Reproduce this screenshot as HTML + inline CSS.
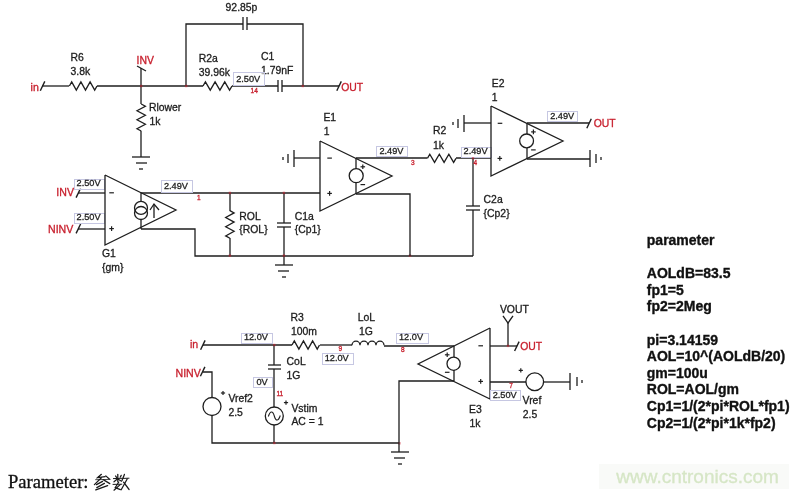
<!DOCTYPE html>
<html><head><meta charset="utf-8"><style>
html,body{margin:0;padding:0;background:#fff;}
body{width:800px;height:492px;overflow:hidden;}
svg{display:block;will-change:transform;}
</style></head><body>
<svg width="800" height="492" viewBox="0 0 800 492">
<rect width="800" height="492" fill="#fff"/>
<text x="30.6" y="90.6" style="font-family:'Liberation Sans';font-size:10.6px;font-weight:normal" fill="#c8202e" stroke="#c8202e" stroke-width="0.3" >in</text>
<path d="M40.30,90.80 L44.80,81.40" fill="none" stroke="#1e1e1e" stroke-width="1.4"/>
<path d="M42.00,86.00 L69.00,86.00" fill="none" stroke="#1e1e1e" stroke-width="1.3"/>
<path d="M69.40,86.00 L71.70,81.90 L76.30,90.10 L80.90,81.90 L85.50,90.10 L90.10,81.90 L94.70,90.10 L97.00,86.00" fill="none" stroke="#1e1e1e" stroke-width="1.3"/>
<path d="M97.00,86.00 L203.00,86.00" fill="none" stroke="#1e1e1e" stroke-width="1.3"/>
<text x="70.6" y="60.8" style="font-family:'Liberation Sans';font-size:10.4px;font-weight:normal" fill="#1c1c1c" stroke="#1c1c1c" stroke-width="0.3" >R6</text>
<text x="70.6" y="75.0" style="font-family:'Liberation Sans';font-size:10.4px;font-weight:normal" fill="#1c1c1c" stroke="#1c1c1c" stroke-width="0.3" >3.8k</text>
<text x="136.6" y="64.2" style="font-family:'Liberation Sans';font-size:10.4px;font-weight:normal" fill="#c8202e" stroke="#c8202e" stroke-width="0.3" >INV</text>
<path d="M137.00,66.00 L146.00,71.00" fill="none" stroke="#1e1e1e" stroke-width="1.3"/>
<path d="M141.00,68.00 L141.00,104.00" fill="none" stroke="#1e1e1e" stroke-width="1.3"/>
<path d="M141.20,104.00 L145.40,106.25 L137.00,110.75 L145.40,115.25 L137.00,119.75 L145.40,124.25 L137.00,128.75 L141.20,131.00" fill="none" stroke="#1e1e1e" stroke-width="1.3"/>
<path d="M141.00,131.00 L141.00,157.00" fill="none" stroke="#1e1e1e" stroke-width="1.3"/>
<path d="M132.00,157.00 L150.00,157.00" fill="none" stroke="#1e1e1e" stroke-width="1.3"/>
<path d="M136.00,163.00 L147.00,163.00" fill="none" stroke="#1e1e1e" stroke-width="1.3"/>
<path d="M139.00,169.00 L143.00,169.00" fill="none" stroke="#1e1e1e" stroke-width="1.3"/>
<text x="149.0" y="111.2" style="font-family:'Liberation Sans';font-size:10.4px;font-weight:normal" fill="#1c1c1c" stroke="#1c1c1c" stroke-width="0.3" >Rlower</text>
<text x="149.6" y="125.0" style="font-family:'Liberation Sans';font-size:10.4px;font-weight:normal" fill="#1c1c1c" stroke="#1c1c1c" stroke-width="0.3" >1k</text>
<path d="M186.00,86.00 L186.00,24.00 L243.00,24.00" fill="none" stroke="#1e1e1e" stroke-width="1.3"/>
<path d="M243.00,17.00 L243.00,30.00" fill="none" stroke="#1e1e1e" stroke-width="1.3"/>
<path d="M247.00,17.00 L247.00,30.00" fill="none" stroke="#1e1e1e" stroke-width="1.3"/>
<path d="M247.00,24.00 L303.00,24.00 L303.00,86.00" fill="none" stroke="#1e1e1e" stroke-width="1.3"/>
<text x="225.6" y="11.4" style="font-family:'Liberation Sans';font-size:10.4px;font-weight:normal" fill="#1c1c1c" stroke="#1c1c1c" stroke-width="0.3" >92.85p</text>
<path d="M203.00,86.00 L205.42,81.90 L210.25,90.10 L215.08,81.90 L219.92,90.10 L224.75,81.90 L229.58,90.10 L232.00,86.00" fill="none" stroke="#1e1e1e" stroke-width="1.3"/>
<text x="198.7" y="62.0" style="font-family:'Liberation Sans';font-size:10.4px;font-weight:normal" fill="#1c1c1c" stroke="#1c1c1c" stroke-width="0.3" >R2a</text>
<text x="198.7" y="75.6" style="font-family:'Liberation Sans';font-size:10.4px;font-weight:normal" fill="#1c1c1c" stroke="#1c1c1c" stroke-width="0.3" >39.96k</text>
<path d="M232.00,86.00 L278.00,86.00" fill="none" stroke="#1e1e1e" stroke-width="1.3"/>
<path d="M278.00,80.00 L278.00,92.00" fill="none" stroke="#1e1e1e" stroke-width="1.3"/>
<path d="M282.00,80.00 L282.00,92.00" fill="none" stroke="#1e1e1e" stroke-width="1.3"/>
<path d="M282.00,86.00 L339.00,86.00" fill="none" stroke="#1e1e1e" stroke-width="1.3"/>
<text x="261.0" y="60.2" style="font-family:'Liberation Sans';font-size:10.4px;font-weight:normal" fill="#1c1c1c" stroke="#1c1c1c" stroke-width="0.3" >C1</text>
<text x="261.0" y="73.8" style="font-family:'Liberation Sans';font-size:10.4px;font-weight:normal" fill="#1c1c1c" stroke="#1c1c1c" stroke-width="0.3" >1.79nF</text>
<path d="M336.80,90.80 L341.30,81.40" fill="none" stroke="#1e1e1e" stroke-width="1.4"/>
<text x="341.2" y="91.0" style="font-family:'Liberation Sans';font-size:10.4px;font-weight:normal" fill="#c8202e" stroke="#c8202e" stroke-width="0.3" >OUT</text>
<rect x="233.5" y="72.5" width="31.0" height="13.0" fill="#fff" fill-opacity="0.6" stroke="#c6c7e2" stroke-width="1"/>
<text x="236.2" y="81.8" style="font-family:'Liberation Sans';font-size:9.2px;font-weight:normal" fill="#222" stroke="#222" stroke-width="0.3" >2.50V</text>
<text x="250.6" y="93.0" style="font-family:'Liberation Sans';font-size:6.5px;font-weight:normal" fill="#c8202e" stroke="#c8202e" stroke-width="0.3" >14</text>
<rect x="140.0" y="84.8" width="2.4" height="2.4" fill="#c8202e" fill-opacity="0.55"/>
<rect x="185.0" y="84.8" width="2.4" height="2.4" fill="#c8202e" fill-opacity="0.55"/>
<rect x="301.6" y="84.8" width="2.4" height="2.4" fill="#c8202e" fill-opacity="0.55"/>
<text x="56.3" y="196.0" style="font-family:'Liberation Sans';font-size:10.6px;font-weight:normal" fill="#c8202e" stroke="#c8202e" stroke-width="0.3" >INV</text>
<path d="M76.10,197.60 L80.60,188.20" fill="none" stroke="#1e1e1e" stroke-width="1.4"/>
<path d="M78.00,193.00 L105.00,193.00" fill="none" stroke="#1e1e1e" stroke-width="1.3"/>
<text x="48.0" y="233.4" style="font-family:'Liberation Sans';font-size:10.6px;font-weight:normal" fill="#c8202e" stroke="#c8202e" stroke-width="0.3" >NINV</text>
<path d="M76.10,233.40 L80.60,224.00" fill="none" stroke="#1e1e1e" stroke-width="1.4"/>
<path d="M78.00,229.00 L105.00,229.00" fill="none" stroke="#1e1e1e" stroke-width="1.3"/>
<rect x="74.5" y="179.5" width="30.0" height="10.0" fill="#fff" fill-opacity="0.6" stroke="#c6c7e2" stroke-width="1"/>
<text x="76.6" y="185.79999999999998" style="font-family:'Liberation Sans';font-size:9.2px;font-weight:normal" fill="#222" stroke="#222" stroke-width="0.3" >2.50V</text>
<rect x="74.5" y="213.5" width="30.0" height="10.0" fill="#fff" fill-opacity="0.6" stroke="#c6c7e2" stroke-width="1"/>
<text x="76.6" y="219.79999999999998" style="font-family:'Liberation Sans';font-size:9.2px;font-weight:normal" fill="#222" stroke="#222" stroke-width="0.3" >2.50V</text>
<path d="M105.00,175.00 L105.00,245.00 L176.00,210.00 L105.00,175.00" fill="none" stroke="#1e1e1e" stroke-width="1.3"/>
<path d="M109.30,192.80 L113.90,192.80" fill="none" stroke="#1e1e1e" stroke-width="1.2"/>
<path d="M109.30,228.60 L113.90,228.60" fill="none" stroke="#1e1e1e" stroke-width="1.2"/>
<path d="M111.60,226.30 L111.60,230.90" fill="none" stroke="#1e1e1e" stroke-width="1.2"/>
<path d="M141.00,193.00 L141.00,202.00" fill="none" stroke="#1e1e1e" stroke-width="1.3"/>
<path d="M141.00,220.00 L141.00,229.00" fill="none" stroke="#1e1e1e" stroke-width="1.3"/>
<circle cx="141.0" cy="207.9" r="6.5" fill="none" stroke="#1e1e1e" stroke-width="1.3"/>
<circle cx="141.0" cy="213.0" r="6.5" fill="none" stroke="#1e1e1e" stroke-width="1.3"/>
<path d="M154.00,204.00 L154.00,218.00" fill="none" stroke="#1e1e1e" stroke-width="1.3"/>
<path d="M150.00,210.00 L154.00,204.00 L159.00,210.00" fill="none" stroke="#1e1e1e" stroke-width="1.3"/>
<text x="102.0" y="257.0" style="font-family:'Liberation Sans';font-size:10.4px;font-weight:normal" fill="#1c1c1c" stroke="#1c1c1c" stroke-width="0.3" >G1</text>
<text x="102.0" y="270.6" style="font-family:'Liberation Sans';font-size:10.4px;font-weight:normal" fill="#1c1c1c" stroke="#1c1c1c" stroke-width="0.3" >{gm}</text>
<path d="M141.00,193.00 L320.00,193.00" fill="none" stroke="#1e1e1e" stroke-width="1.3"/>
<rect x="161.5" y="180.5" width="31.0" height="12.0" fill="#fff" fill-opacity="0.6" stroke="#c6c7e2" stroke-width="1"/>
<text x="163.9" y="188.79999999999998" style="font-family:'Liberation Sans';font-size:9.2px;font-weight:normal" fill="#222" stroke="#222" stroke-width="0.3" >2.49V</text>
<text x="197.0" y="199.6" style="font-family:'Liberation Sans';font-size:6.5px;font-weight:normal" fill="#c8202e" stroke="#c8202e" stroke-width="0.3" >1</text>
<path d="M141.00,229.00 L195.00,229.00 L195.00,256.00 L473.00,256.00" fill="none" stroke="#1e1e1e" stroke-width="1.3"/>
<path d="M230.00,193.00 L230.00,211.00" fill="none" stroke="#1e1e1e" stroke-width="1.3"/>
<path d="M229.90,210.60 L234.10,212.90 L225.70,217.50 L234.10,222.10 L225.70,226.70 L234.10,231.30 L225.70,235.90 L229.90,238.20" fill="none" stroke="#1e1e1e" stroke-width="1.3"/>
<path d="M230.00,238.00 L230.00,256.00" fill="none" stroke="#1e1e1e" stroke-width="1.3"/>
<text x="239.3" y="219.8" style="font-family:'Liberation Sans';font-size:10.4px;font-weight:normal" fill="#1c1c1c" stroke="#1c1c1c" stroke-width="0.3" >ROL</text>
<text x="239.3" y="232.6" style="font-family:'Liberation Sans';font-size:10.4px;font-weight:normal" fill="#1c1c1c" stroke="#1c1c1c" stroke-width="0.3" >{ROL}</text>
<path d="M284.00,193.00 L284.00,223.00" fill="none" stroke="#1e1e1e" stroke-width="1.3"/>
<path d="M277.00,223.00 L291.00,223.00" fill="none" stroke="#1e1e1e" stroke-width="1.3"/>
<path d="M277.00,227.00 L291.00,227.00" fill="none" stroke="#1e1e1e" stroke-width="1.3"/>
<path d="M284.00,227.00 L284.00,265.00" fill="none" stroke="#1e1e1e" stroke-width="1.3"/>
<path d="M275.00,265.00 L293.00,265.00" fill="none" stroke="#1e1e1e" stroke-width="1.3"/>
<path d="M278.00,271.00 L289.00,271.00" fill="none" stroke="#1e1e1e" stroke-width="1.3"/>
<path d="M282.00,277.00 L286.00,277.00" fill="none" stroke="#1e1e1e" stroke-width="1.3"/>
<text x="294.8" y="219.8" style="font-family:'Liberation Sans';font-size:10.4px;font-weight:normal" fill="#1c1c1c" stroke="#1c1c1c" stroke-width="0.3" >C1a</text>
<text x="294.8" y="232.6" style="font-family:'Liberation Sans';font-size:10.4px;font-weight:normal" fill="#1c1c1c" stroke="#1c1c1c" stroke-width="0.3" >{Cp1}</text>
<rect x="228.70000000000002" y="191.70000000000002" width="2.4" height="2.4" fill="#c8202e" fill-opacity="0.55"/>
<rect x="282.7" y="191.70000000000002" width="2.4" height="2.4" fill="#c8202e" fill-opacity="0.55"/>
<rect x="228.70000000000002" y="254.4" width="2.4" height="2.4" fill="#c8202e" fill-opacity="0.55"/>
<rect x="282.7" y="254.4" width="2.4" height="2.4" fill="#c8202e" fill-opacity="0.55"/>
<rect x="408.8" y="254.4" width="2.4" height="2.4" fill="#c8202e" fill-opacity="0.55"/>
<path d="M320.00,141.00 L320.00,211.00 L392.00,176.00 L320.00,141.00" fill="none" stroke="#1e1e1e" stroke-width="1.3"/>
<path d="M294.00,158.00 L320.00,158.00" fill="none" stroke="#1e1e1e" stroke-width="1.3"/>
<path d="M294.00,150.00 L294.00,167.00" fill="none" stroke="#1e1e1e" stroke-width="1.3"/>
<path d="M288.00,154.00 L288.00,163.00" fill="none" stroke="#1e1e1e" stroke-width="1.3"/>
<path d="M283.00,157.00 L283.00,160.00" fill="none" stroke="#1e1e1e" stroke-width="1.3"/>
<path d="M327.30,158.10 L331.90,158.10" fill="none" stroke="#1e1e1e" stroke-width="1.2"/>
<path d="M327.30,193.40 L331.90,193.40" fill="none" stroke="#1e1e1e" stroke-width="1.2"/>
<path d="M329.60,191.10 L329.60,195.70" fill="none" stroke="#1e1e1e" stroke-width="1.2"/>
<path d="M356.00,158.00 L356.00,169.00" fill="none" stroke="#1e1e1e" stroke-width="1.3"/>
<path d="M356.00,183.00 L356.00,194.00" fill="none" stroke="#1e1e1e" stroke-width="1.3"/>
<circle cx="356.2" cy="175.7" r="7.0" fill="none" stroke="#1e1e1e" stroke-width="1.3"/>
<path d="M360.50,166.80 L365.10,166.80" fill="none" stroke="#1e1e1e" stroke-width="1.2"/>
<path d="M362.80,164.50 L362.80,169.10" fill="none" stroke="#1e1e1e" stroke-width="1.2"/>
<path d="M360.50,184.60 L365.10,184.60" fill="none" stroke="#1e1e1e" stroke-width="1.2"/>
<text x="323.4" y="120.9" style="font-family:'Liberation Sans';font-size:10.4px;font-weight:normal" fill="#1c1c1c" stroke="#1c1c1c" stroke-width="0.3" >E1</text>
<text x="323.8" y="135.0" style="font-family:'Liberation Sans';font-size:10.4px;font-weight:normal" fill="#1c1c1c" stroke="#1c1c1c" stroke-width="0.3" >1</text>
<path d="M356.00,158.00 L427.00,158.00" fill="none" stroke="#1e1e1e" stroke-width="1.3"/>
<path d="M427.40,158.30 L429.78,154.20 L434.55,162.40 L439.32,154.20 L444.08,162.40 L448.85,154.20 L453.62,162.40 L456.00,158.30" fill="none" stroke="#1e1e1e" stroke-width="1.3"/>
<path d="M456.00,158.00 L491.00,158.00" fill="none" stroke="#1e1e1e" stroke-width="1.3"/>
<rect x="376.5" y="146.5" width="31.0" height="10.0" fill="#fff" fill-opacity="0.6" stroke="#c6c7e2" stroke-width="1"/>
<text x="379.40000000000003" y="153.6" style="font-family:'Liberation Sans';font-size:9.2px;font-weight:normal" fill="#222" stroke="#222" stroke-width="0.3" >2.49V</text>
<text x="411.0" y="165.0" style="font-family:'Liberation Sans';font-size:6.5px;font-weight:normal" fill="#c8202e" stroke="#c8202e" stroke-width="0.3" >3</text>
<text x="433.0" y="134.0" style="font-family:'Liberation Sans';font-size:10.4px;font-weight:normal" fill="#1c1c1c" stroke="#1c1c1c" stroke-width="0.3" >R2</text>
<text x="433.0" y="148.6" style="font-family:'Liberation Sans';font-size:10.4px;font-weight:normal" fill="#1c1c1c" stroke="#1c1c1c" stroke-width="0.3" >1k</text>
<path d="M356.00,194.00 L410.00,194.00 L410.00,256.00" fill="none" stroke="#1e1e1e" stroke-width="1.3"/>
<path d="M473.00,158.00 L473.00,206.00" fill="none" stroke="#1e1e1e" stroke-width="1.3"/>
<path d="M466.00,206.00 L480.00,206.00" fill="none" stroke="#1e1e1e" stroke-width="1.3"/>
<path d="M466.00,210.00 L480.00,210.00" fill="none" stroke="#1e1e1e" stroke-width="1.3"/>
<path d="M473.00,210.00 L473.00,256.00" fill="none" stroke="#1e1e1e" stroke-width="1.3"/>
<text x="483.6" y="203.4" style="font-family:'Liberation Sans';font-size:10.4px;font-weight:normal" fill="#1c1c1c" stroke="#1c1c1c" stroke-width="0.3" >C2a</text>
<text x="483.6" y="216.6" style="font-family:'Liberation Sans';font-size:10.4px;font-weight:normal" fill="#1c1c1c" stroke="#1c1c1c" stroke-width="0.3" >{Cp2}</text>
<rect x="461.5" y="147.5" width="30.0" height="10.0" fill="#fff" fill-opacity="0.6" stroke="#c6c7e2" stroke-width="1"/>
<text x="463.6" y="153.79999999999998" style="font-family:'Liberation Sans';font-size:9.2px;font-weight:normal" fill="#222" stroke="#222" stroke-width="0.3" >2.49V</text>
<text x="473.4" y="165.2" style="font-family:'Liberation Sans';font-size:6.5px;font-weight:normal" fill="#c8202e" stroke="#c8202e" stroke-width="0.3" >4</text>
<rect x="471.8" y="157.10000000000002" width="2.4" height="2.4" fill="#c8202e" fill-opacity="0.55"/>
<path d="M491.00,106.00 L491.00,176.00 L563.00,141.00 L491.00,106.00" fill="none" stroke="#1e1e1e" stroke-width="1.3"/>
<path d="M464.00,123.00 L491.00,123.00" fill="none" stroke="#1e1e1e" stroke-width="1.3"/>
<path d="M464.00,115.00 L464.00,132.00" fill="none" stroke="#1e1e1e" stroke-width="1.3"/>
<path d="M458.00,119.00 L458.00,128.00" fill="none" stroke="#1e1e1e" stroke-width="1.3"/>
<path d="M453.00,122.00 L453.00,125.00" fill="none" stroke="#1e1e1e" stroke-width="1.3"/>
<path d="M497.70,123.30 L502.30,123.30" fill="none" stroke="#1e1e1e" stroke-width="1.2"/>
<path d="M497.50,158.40 L502.10,158.40" fill="none" stroke="#1e1e1e" stroke-width="1.2"/>
<path d="M499.80,156.10 L499.80,160.70" fill="none" stroke="#1e1e1e" stroke-width="1.2"/>
<path d="M527.00,123.00 L527.00,134.00" fill="none" stroke="#1e1e1e" stroke-width="1.3"/>
<path d="M527.00,148.00 L527.00,159.00" fill="none" stroke="#1e1e1e" stroke-width="1.3"/>
<circle cx="526.6" cy="140.9" r="6.9" fill="none" stroke="#1e1e1e" stroke-width="1.3"/>
<path d="M531.10,131.90 L535.70,131.90" fill="none" stroke="#1e1e1e" stroke-width="1.2"/>
<path d="M533.40,129.60 L533.40,134.20" fill="none" stroke="#1e1e1e" stroke-width="1.2"/>
<path d="M531.10,149.90 L535.70,149.90" fill="none" stroke="#1e1e1e" stroke-width="1.2"/>
<text x="491.8" y="87.0" style="font-family:'Liberation Sans';font-size:10.4px;font-weight:normal" fill="#1c1c1c" stroke="#1c1c1c" stroke-width="0.3" >E2</text>
<text x="491.8" y="100.5" style="font-family:'Liberation Sans';font-size:10.4px;font-weight:normal" fill="#1c1c1c" stroke="#1c1c1c" stroke-width="0.3" >1</text>
<path d="M527.00,123.00 L589.00,123.00" fill="none" stroke="#1e1e1e" stroke-width="1.3"/>
<path d="M586.80,128.20 L591.30,118.80" fill="none" stroke="#1e1e1e" stroke-width="1.4"/>
<text x="593.7" y="127.0" style="font-family:'Liberation Sans';font-size:10.4px;font-weight:normal" fill="#c8202e" stroke="#c8202e" stroke-width="0.3" >OUT</text>
<rect x="547.5" y="111.5" width="30.0" height="10.0" fill="#fff" fill-opacity="0.6" stroke="#c6c7e2" stroke-width="1"/>
<text x="550.2" y="118.60000000000001" style="font-family:'Liberation Sans';font-size:9.2px;font-weight:normal" fill="#222" stroke="#222" stroke-width="0.3" >2.49V</text>
<path d="M527.00,159.00 L590.00,159.00" fill="none" stroke="#1e1e1e" stroke-width="1.3"/>
<path d="M590.00,150.00 L590.00,167.00" fill="none" stroke="#1e1e1e" stroke-width="1.3"/>
<path d="M596.00,154.00 L596.00,163.00" fill="none" stroke="#1e1e1e" stroke-width="1.3"/>
<path d="M601.00,157.00 L601.00,160.00" fill="none" stroke="#1e1e1e" stroke-width="1.3"/>
<text x="190.0" y="348.2" style="font-family:'Liberation Sans';font-size:10.6px;font-weight:normal" fill="#c8202e" stroke="#c8202e" stroke-width="0.3" >in</text>
<path d="M200.60,349.80 L205.10,340.40" fill="none" stroke="#1e1e1e" stroke-width="1.4"/>
<path d="M203.00,345.00 L292.00,345.00" fill="none" stroke="#1e1e1e" stroke-width="1.3"/>
<path d="M292.00,345.00 L294.29,340.90 L298.88,349.10 L303.46,340.90 L308.04,349.10 L312.62,340.90 L317.21,349.10 L319.50,345.00" fill="none" stroke="#1e1e1e" stroke-width="1.3"/>
<path d="M320.00,345.00 L352.00,345.00" fill="none" stroke="#1e1e1e" stroke-width="1.3"/>
<path d="M352,345.2 A4,4 0 0 1 360,345.2 A4,4 0 0 1 368,345.2 A4,4 0 0 1 376,345.2 A4,4 0 0 1 384,345.2" fill="none" stroke="#1e1e1e" stroke-width="1.3"/>
<path d="M384.00,346.00 L454.00,346.00" fill="none" stroke="#1e1e1e" stroke-width="1.3"/>
<text x="290.5" y="321.2" style="font-family:'Liberation Sans';font-size:10.4px;font-weight:normal" fill="#1c1c1c" stroke="#1c1c1c" stroke-width="0.3" >R3</text>
<text x="291.0" y="334.8" style="font-family:'Liberation Sans';font-size:10.4px;font-weight:normal" fill="#1c1c1c" stroke="#1c1c1c" stroke-width="0.3" >100m</text>
<text x="357.8" y="321.2" style="font-family:'Liberation Sans';font-size:10.4px;font-weight:normal" fill="#1c1c1c" stroke="#1c1c1c" stroke-width="0.3" >LoL</text>
<text x="359.0" y="334.6" style="font-family:'Liberation Sans';font-size:10.4px;font-weight:normal" fill="#1c1c1c" stroke="#1c1c1c" stroke-width="0.3" >1G</text>
<rect x="241.5" y="333.5" width="31.0" height="10.0" fill="#fff" fill-opacity="0.6" stroke="#c6c7e2" stroke-width="1"/>
<text x="243.9" y="340.0" style="font-family:'Liberation Sans';font-size:9.2px;font-weight:normal" fill="#222" stroke="#222" stroke-width="0.3" >12.0V</text>
<text x="338.6" y="351.4" style="font-family:'Liberation Sans';font-size:6.5px;font-weight:normal" fill="#c8202e" stroke="#c8202e" stroke-width="0.3" >9</text>
<rect x="322.5" y="353.5" width="31.0" height="11.0" fill="#fff" fill-opacity="0.6" stroke="#c6c7e2" stroke-width="1"/>
<text x="324.70000000000005" y="361.2" style="font-family:'Liberation Sans';font-size:9.2px;font-weight:normal" fill="#222" stroke="#222" stroke-width="0.3" >12.0V</text>
<path d="M274.00,345.00 L274.00,365.00" fill="none" stroke="#1e1e1e" stroke-width="1.3"/>
<path d="M268.00,365.00 L281.00,365.00" fill="none" stroke="#1e1e1e" stroke-width="1.3"/>
<path d="M268.00,369.00 L281.00,369.00" fill="none" stroke="#1e1e1e" stroke-width="1.3"/>
<path d="M274.00,369.00 L274.00,407.00" fill="none" stroke="#1e1e1e" stroke-width="1.3"/>
<circle cx="274.3" cy="416.0" r="9.0" fill="none" stroke="#1e1e1e" stroke-width="1.3"/>
<path d="M268.3,416.5 C270.3,410.5 272.8,410.5 274.3,416 C275.8,421.5 278.3,421.5 280.3,415.5" fill="none" stroke="#1e1e1e" stroke-width="1.1"/>
<path d="M274.00,425.00 L274.00,443.00" fill="none" stroke="#1e1e1e" stroke-width="1.3"/>
<text x="286.6" y="365.2" style="font-family:'Liberation Sans';font-size:10.4px;font-weight:normal" fill="#1c1c1c" stroke="#1c1c1c" stroke-width="0.3" >CoL</text>
<text x="286.6" y="378.8" style="font-family:'Liberation Sans';font-size:10.4px;font-weight:normal" fill="#1c1c1c" stroke="#1c1c1c" stroke-width="0.3" >1G</text>
<rect x="253.5" y="377.5" width="19.0" height="10.0" fill="#fff" fill-opacity="0.6" stroke="#c6c7e2" stroke-width="1"/>
<text x="256.4" y="384.59999999999997" style="font-family:'Liberation Sans';font-size:9.2px;font-weight:normal" fill="#222" stroke="#222" stroke-width="0.3" >0V</text>
<text x="276.4" y="396.0" style="font-family:'Liberation Sans';font-size:6.5px;font-weight:normal" fill="#c8202e" stroke="#c8202e" stroke-width="0.3" >11</text>
<path d="M283.90,402.60 L288.10,402.60" fill="none" stroke="#1e1e1e" stroke-width="1.2"/>
<path d="M286.00,400.50 L286.00,404.70" fill="none" stroke="#1e1e1e" stroke-width="1.2"/>
<text x="291.4" y="411.8" style="font-family:'Liberation Sans';font-size:10.4px;font-weight:normal" fill="#1c1c1c" stroke="#1c1c1c" stroke-width="0.3" >Vstim</text>
<text x="291.4" y="425.2" style="font-family:'Liberation Sans';font-size:10.4px;font-weight:normal" fill="#1c1c1c" stroke="#1c1c1c" stroke-width="0.3" >AC = 1</text>
<text x="175.5" y="376.6" style="font-family:'Liberation Sans';font-size:10.6px;font-weight:normal" fill="#c8202e" stroke="#c8202e" stroke-width="0.3" >NINV</text>
<path d="M200.40,376.30 L204.90,366.90" fill="none" stroke="#1e1e1e" stroke-width="1.4"/>
<path d="M203.00,372.00 L212.00,372.00 L212.00,398.00" fill="none" stroke="#1e1e1e" stroke-width="1.3"/>
<circle cx="212.0" cy="406.5" r="9.0" fill="none" stroke="#1e1e1e" stroke-width="1.3"/>
<path d="M212.00,416.00 L212.00,443.00 L399.00,443.00" fill="none" stroke="#1e1e1e" stroke-width="1.3"/>
<path d="M220.90,393.00 L225.10,393.00" fill="none" stroke="#1e1e1e" stroke-width="1.2"/>
<path d="M223.00,390.90 L223.00,395.10" fill="none" stroke="#1e1e1e" stroke-width="1.2"/>
<text x="228.4" y="402.4" style="font-family:'Liberation Sans';font-size:10.4px;font-weight:normal" fill="#1c1c1c" stroke="#1c1c1c" stroke-width="0.3" >Vref2</text>
<text x="228.4" y="416.0" style="font-family:'Liberation Sans';font-size:10.4px;font-weight:normal" fill="#1c1c1c" stroke="#1c1c1c" stroke-width="0.3" >2.5</text>
<rect x="273.1" y="343.8" width="2.4" height="2.4" fill="#c8202e" fill-opacity="0.55"/>
<rect x="273.1" y="441.8" width="2.4" height="2.4" fill="#c8202e" fill-opacity="0.55"/>
<rect x="398.2" y="442.1" width="2.4" height="2.4" fill="#c8202e" fill-opacity="0.55"/>
<path d="M490.00,328.00 L490.00,399.00 L418.00,364.00 L490.00,328.00" fill="none" stroke="#1e1e1e" stroke-width="1.3"/>
<path d="M454.00,346.00 L454.00,357.00" fill="none" stroke="#1e1e1e" stroke-width="1.3"/>
<path d="M454.00,370.00 L454.00,381.00" fill="none" stroke="#1e1e1e" stroke-width="1.3"/>
<circle cx="453.6" cy="363.7" r="6.6" fill="none" stroke="#1e1e1e" stroke-width="1.3"/>
<path d="M444.90,354.80 L449.50,354.80" fill="none" stroke="#1e1e1e" stroke-width="1.2"/>
<path d="M447.20,352.50 L447.20,357.10" fill="none" stroke="#1e1e1e" stroke-width="1.2"/>
<path d="M444.90,372.30 L449.50,372.30" fill="none" stroke="#1e1e1e" stroke-width="1.2"/>
<path d="M478.40,345.80 L483.00,345.80" fill="none" stroke="#1e1e1e" stroke-width="1.2"/>
<path d="M478.40,381.40 L483.00,381.40" fill="none" stroke="#1e1e1e" stroke-width="1.2"/>
<path d="M480.70,379.10 L480.70,383.70" fill="none" stroke="#1e1e1e" stroke-width="1.2"/>
<path d="M454.00,381.00 L399.00,381.00 L399.00,452.00" fill="none" stroke="#1e1e1e" stroke-width="1.3"/>
<path d="M391.00,452.00 L409.00,452.00" fill="none" stroke="#1e1e1e" stroke-width="1.3"/>
<path d="M394.00,458.00 L405.00,458.00" fill="none" stroke="#1e1e1e" stroke-width="1.3"/>
<path d="M398.00,464.00 L402.00,464.00" fill="none" stroke="#1e1e1e" stroke-width="1.3"/>
<rect x="396.5" y="333.5" width="32.0" height="10.0" fill="#fff" fill-opacity="0.6" stroke="#c6c7e2" stroke-width="1"/>
<text x="399.0" y="340.2" style="font-family:'Liberation Sans';font-size:9.2px;font-weight:normal" fill="#222" stroke="#222" stroke-width="0.3" >12.0V</text>
<text x="401.0" y="352.2" style="font-family:'Liberation Sans';font-size:6.5px;font-weight:normal" fill="#c8202e" stroke="#c8202e" stroke-width="0.3" >8</text>
<path d="M490.00,346.00 L517.00,346.00" fill="none" stroke="#1e1e1e" stroke-width="1.3"/>
<path d="M514.60,351.00 L519.10,341.60" fill="none" stroke="#1e1e1e" stroke-width="1.4"/>
<text x="520.2" y="350.2" style="font-family:'Liberation Sans';font-size:10.4px;font-weight:normal" fill="#c8202e" stroke="#c8202e" stroke-width="0.3" >OUT</text>
<path d="M508.00,346.00 L508.00,323.00" fill="none" stroke="#1e1e1e" stroke-width="1.3"/>
<path d="M503.00,315.80 L508.00,323.00 L513.00,315.80" fill="none" stroke="#1e1e1e" stroke-width="1.3"/>
<text x="499.9" y="312.6" style="font-family:'Liberation Sans';font-size:10.4px;font-weight:normal" fill="#1c1c1c" stroke="#1c1c1c" stroke-width="0.3" >VOUT</text>
<rect x="506.8" y="344.7" width="2.4" height="2.4" fill="#c8202e" fill-opacity="0.55"/>
<path d="M490.00,382.00 L526.00,382.00" fill="none" stroke="#1e1e1e" stroke-width="1.3"/>
<circle cx="534.75" cy="381.7" r="8.85" fill="none" stroke="#1e1e1e" stroke-width="1.3"/>
<path d="M544.00,382.00 L570.00,382.00" fill="none" stroke="#1e1e1e" stroke-width="1.3"/>
<path d="M570.00,373.00 L570.00,390.00" fill="none" stroke="#1e1e1e" stroke-width="1.3"/>
<path d="M577.00,377.00 L577.00,386.00" fill="none" stroke="#1e1e1e" stroke-width="1.3"/>
<path d="M582.00,380.00 L582.00,383.00" fill="none" stroke="#1e1e1e" stroke-width="1.3"/>
<path d="M518.70,370.40 L522.90,370.40" fill="none" stroke="#1e1e1e" stroke-width="1.2"/>
<path d="M520.80,368.30 L520.80,372.50" fill="none" stroke="#1e1e1e" stroke-width="1.2"/>
<text x="522.6" y="403.6" style="font-family:'Liberation Sans';font-size:10.4px;font-weight:normal" fill="#1c1c1c" stroke="#1c1c1c" stroke-width="0.3" >Vref</text>
<text x="522.8" y="417.6" style="font-family:'Liberation Sans';font-size:10.4px;font-weight:normal" fill="#1c1c1c" stroke="#1c1c1c" stroke-width="0.3" >2.5</text>
<text x="509.2" y="388.0" style="font-family:'Liberation Sans';font-size:6.5px;font-weight:normal" fill="#c8202e" stroke="#c8202e" stroke-width="0.3" >7</text>
<rect x="490.5" y="390.5" width="30.0" height="10.0" fill="#fff" fill-opacity="0.6" stroke="#c6c7e2" stroke-width="1"/>
<text x="492.70000000000005" y="397.59999999999997" style="font-family:'Liberation Sans';font-size:9.2px;font-weight:normal" fill="#222" stroke="#222" stroke-width="0.3" >2.50V</text>
<text x="469.0" y="413.0" style="font-family:'Liberation Sans';font-size:10.4px;font-weight:normal" fill="#1c1c1c" stroke="#1c1c1c" stroke-width="0.3" >E3</text>
<text x="469.4" y="427.0" style="font-family:'Liberation Sans';font-size:10.4px;font-weight:normal" fill="#1c1c1c" stroke="#1c1c1c" stroke-width="0.3" >1k</text>
<text x="646.8" y="245.0" style="font-family:'Liberation Sans';font-size:14px;font-weight:bold" fill="#111" stroke="#111" stroke-width="0.35" >parameter</text>
<text x="646.8" y="278.2" style="font-family:'Liberation Sans';font-size:14px;font-weight:bold" fill="#111" stroke="#111" stroke-width="0.35" >AOLdB=83.5</text>
<text x="646.8" y="294.8" style="font-family:'Liberation Sans';font-size:14px;font-weight:bold" fill="#111" stroke="#111" stroke-width="0.35" >fp1=5</text>
<text x="646.8" y="311.4" style="font-family:'Liberation Sans';font-size:14px;font-weight:bold" fill="#111" stroke="#111" stroke-width="0.35" >fp2=2Meg</text>
<text x="646.8" y="344.6" style="font-family:'Liberation Sans';font-size:14px;font-weight:bold" fill="#111" stroke="#111" stroke-width="0.35" >pi=3.14159</text>
<text x="646.8" y="361.20000000000005" style="font-family:'Liberation Sans';font-size:14px;font-weight:bold" fill="#111" stroke="#111" stroke-width="0.35" >AOL=10^(AOLdB/20)</text>
<text x="646.8" y="377.8" style="font-family:'Liberation Sans';font-size:14px;font-weight:bold" fill="#111" stroke="#111" stroke-width="0.35" >gm=100u</text>
<text x="646.8" y="394.4" style="font-family:'Liberation Sans';font-size:14px;font-weight:bold" fill="#111" stroke="#111" stroke-width="0.35" >ROL=AOL/gm</text>
<text x="646.8" y="411.0" style="font-family:'Liberation Sans';font-size:14px;font-weight:bold" fill="#111" stroke="#111" stroke-width="0.35" >Cp1=1/(2*pi*ROL*fp1)</text>
<text x="646.8" y="427.6" style="font-family:'Liberation Sans';font-size:14px;font-weight:bold" fill="#111" stroke="#111" stroke-width="0.35" >Cp2=1/(2*pi*1k*fp2)</text>
<text x="8.0" y="488.4" style="font-family:'Liberation Serif';font-size:18.6px;font-weight:normal" fill="#111" stroke="#111" stroke-width="0.3" >Parameter:</text>
<rect x="599" y="464" width="190" height="25" fill="#f9faf8"/>
<text x="616.3" y="482.6" style="font-family:'Liberation Sans';font-size:19px;font-weight:normal" fill="#d6e6c6" stroke="#d6e6c6" stroke-width="0.3" >www.cntronics.com</text>
<path d="M101.40,474.30 L97.60,477.60 L105.20,476.60" fill="none" stroke="#1a1a1a" stroke-width="1.25" stroke-linecap="round"/>
<path d="M105.80,475.90 L109.30,479.00" fill="none" stroke="#1a1a1a" stroke-width="1.25" stroke-linecap="round"/>
<path d="M95.60,479.70 L110.20,479.40" fill="none" stroke="#1a1a1a" stroke-width="0.8" stroke-linecap="round"/>
<path d="M101.40,477.80 L94.40,484.60" fill="none" stroke="#1a1a1a" stroke-width="1.25" stroke-linecap="round"/>
<path d="M103.20,479.60 L109.80,483.60" fill="none" stroke="#1a1a1a" stroke-width="1.25" stroke-linecap="round"/>
<path d="M102.60,481.40 L96.40,484.60" fill="none" stroke="#1a1a1a" stroke-width="1.25" stroke-linecap="round"/>
<path d="M104.40,483.40 L96.80,487.60" fill="none" stroke="#1a1a1a" stroke-width="1.25" stroke-linecap="round"/>
<path d="M107.60,485.60 L95.80,489.90" fill="none" stroke="#1a1a1a" stroke-width="1.4" stroke-linecap="round"/>
<path d="M115.60,476.00 L116.80,477.60" fill="none" stroke="#1a1a1a" stroke-width="1.25" stroke-linecap="round"/>
<path d="M121.20,475.40 L120.20,477.20" fill="none" stroke="#1a1a1a" stroke-width="1.25" stroke-linecap="round"/>
<path d="M113.40,478.60 L122.20,478.30" fill="none" stroke="#1a1a1a" stroke-width="1.0" stroke-linecap="round"/>
<path d="M117.80,474.40 L117.80,481.80" fill="none" stroke="#1a1a1a" stroke-width="1.25" stroke-linecap="round"/>
<path d="M117.60,478.80 L114.00,481.80" fill="none" stroke="#1a1a1a" stroke-width="1.25" stroke-linecap="round"/>
<path d="M118.20,479.20 L121.60,481.20" fill="none" stroke="#1a1a1a" stroke-width="1.25" stroke-linecap="round"/>
<path d="M113.00,484.40 L121.80,484.20" fill="none" stroke="#1a1a1a" stroke-width="1.0" stroke-linecap="round"/>
<path d="M118.80,482.00 L115.20,487.60 L120.40,489.60" fill="none" stroke="#1a1a1a" stroke-width="1.25" stroke-linecap="round"/>
<path d="M120.20,484.60 L114.00,490.20" fill="none" stroke="#1a1a1a" stroke-width="1.25" stroke-linecap="round"/>
<path d="M124.40,474.40 L122.00,480.40" fill="none" stroke="#1a1a1a" stroke-width="1.25" stroke-linecap="round"/>
<path d="M123.00,478.40 L129.00,478.20" fill="none" stroke="#1a1a1a" stroke-width="1.0" stroke-linecap="round"/>
<path d="M127.20,479.00 L121.20,489.80" fill="none" stroke="#1a1a1a" stroke-width="1.25" stroke-linecap="round"/>
<path d="M123.60,482.20 L129.00,489.40" fill="none" stroke="#1a1a1a" stroke-width="1.4" stroke-linecap="round"/>
</svg>
</body></html>
